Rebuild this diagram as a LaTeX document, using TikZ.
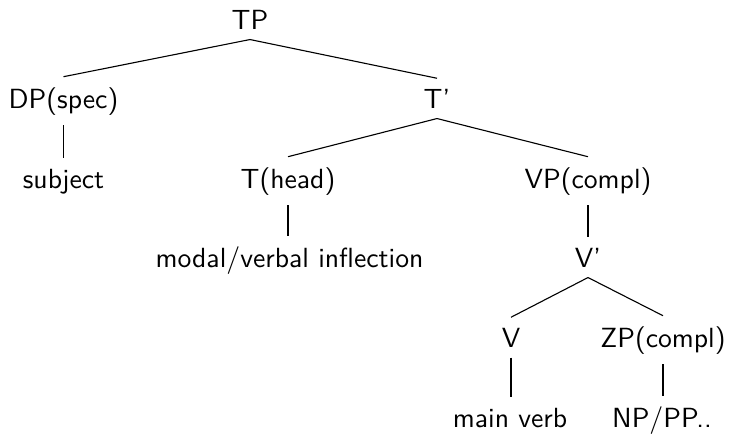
\documentclass[tikz,border=0pt]{standalone}
\usepackage{fontspec}
\begin{document}
\begin{tikzpicture}[x=0.361pt, y=-0.361pt, font=\sffamily,
  lbl/.style={anchor=base, inner sep=3.8pt, outer sep=0pt},
  edge/.style={line width=0.4pt}]
\useasboundingbox (0,0) rectangle (730,433);
\node[lbl] (tp) at (250,29) {TP};
\node[lbl] (dp) at (63.5,108) {DP(spec)};
\node[lbl] (tbar) at (437,108) {T'};
\node[lbl] (subj) at (63.5,188) {subject};
\node[lbl] (thead) at (288,188) {T(head)};
\node[lbl] (vp) at (588,188) {VP(compl)};
\node[lbl] (modal) at (289.5,267) {modal/verbal inflection};
\node[lbl] (vbar) at (588,267) {V'};
\node[lbl] (v) at (511,347) {V};
\node[lbl] (zp) at (663,347) {ZP(compl)};
\node[lbl] (mv) at (510,427) {main verb};
\node[lbl] (np) at (662,427) {NP/PP..};
\draw[edge] (tp.south) -- (dp.north);
\draw[edge] (tp.south) -- (tbar.north);
\draw[edge] (dp.south) -- (subj.north);
\draw[edge] (tbar.south) -- (thead.north);
\draw[edge] (tbar.south) -- (vp.north);
\draw[edge] (thead.south) -- (thead.south |- modal.north);
\draw[edge] (vp.south) -- (vbar.north);
\draw[edge] (vbar.south) -- (v.north);
\draw[edge] (vbar.south) -- (zp.north);
\draw[edge] (v.south) -- (v.south |- mv.north);
\draw[edge] (zp.south) -- (zp.south |- np.north);
\end{tikzpicture}
\end{document}
